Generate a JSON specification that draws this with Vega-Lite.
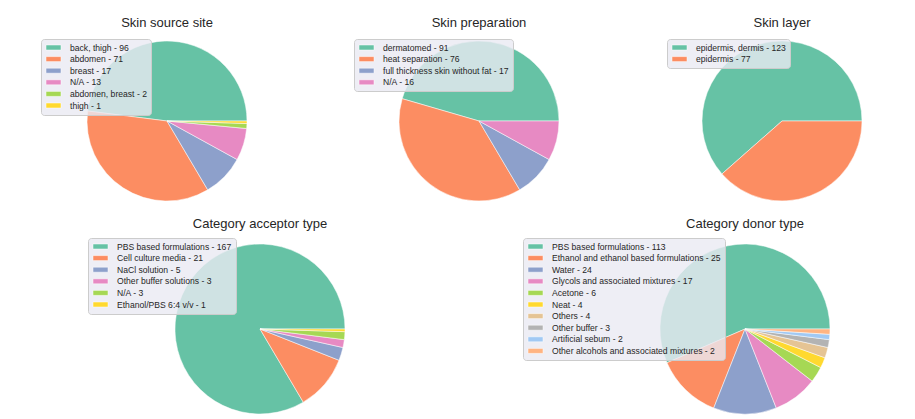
{
  "$schema": "https://vega.github.io/schema/vega-lite/v6.json",
  "padding": {"left": 0, "top": 17, "right": 0, "bottom": 0},
  "background": "white",
  "spacing": 12,
  "config": {
    "view": {"stroke": null},
    "font": "Liberation Sans",
    "title": {"fontSize": 13, "fontWeight": "normal", "color": "#262626", "font": "Liberation Sans", "offset": 6},
    "legend": {
      "fillColor": "rgba(234,234,242,0.8)",
      "strokeColor": "#cccccc",
      "cornerRadius": 3,
      "padding": 4,
      "labelFont": "Liberation Sans",
      "labelFontSize": 8.6,
      "labelColor": "#262626",
      "symbolType": "M-0.875,-0.625H2.875V0.625H-0.875Z",
      "symbolSize": 64,
      "symbolStrokeWidth": 0,
      "symbolOpacity": 1,
      "rowPadding": 1.6,
      "labelOffset": 16,
      "labelLimit": 400,
      "title": null
    },
    "arc": {"stroke": "white", "strokeWidth": 0.5}
  },
  "resolve": {"scale": {"color": "independent", "theta": "independent"}, "legend": {"color": "independent"}},
  "vconcat": [
    {
      "spacing": 0,
      "resolve": {"scale": {"color": "independent", "theta": "independent"}, "legend": {"color": "independent"}},
      "hconcat": [
        {
          "title": "Skin source site",
          "width": 334, "height": 170,
          "data": {"values": [
            {"label": "back, thigh - 96", "count": 96, "i": 0},
            {"label": "abdomen - 71", "count": 71, "i": 1},
            {"label": "breast - 17", "count": 17, "i": 2},
            {"label": "N/A - 13", "count": 13, "i": 3},
            {"label": "abdomen, breast - 2", "count": 2, "i": 4},
            {"label": "thigh - 1", "count": 1, "i": 5}
          ]},
          "mark": {"type": "arc", "outerRadius": 80},
          "encoding": {
            "theta": {"field": "count", "type": "quantitative", "stack": true, "scale": {"range": [1.5708, -4.7124]}},
            "order": {"field": "i", "type": "quantitative"},
            "color": {"field": "label", "type": "nominal", "sort": null,
              "scale": {"range": ["#66c2a5", "#fc8d62", "#8da0cb", "#e78ac3", "#a6d854", "#ffd92f"]},
              "legend": {"orient": "none", "legendX": 41, "legendY": 3}}
          }
        },
        {
          "title": "Skin preparation",
          "width": 290, "height": 170,
          "data": {"values": [
            {"label": "dermatomed - 91", "count": 91, "i": 0},
            {"label": "heat separation - 76", "count": 76, "i": 1},
            {"label": "full thickness skin without fat - 17", "count": 17, "i": 2},
            {"label": "N/A - 16", "count": 16, "i": 3}
          ]},
          "mark": {"type": "arc", "outerRadius": 80},
          "encoding": {
            "theta": {"field": "count", "type": "quantitative", "stack": true, "scale": {"range": [1.5708, -4.7124]}},
            "order": {"field": "i", "type": "quantitative"},
            "color": {"field": "label", "type": "nominal", "sort": null,
              "scale": {"range": ["#66c2a5", "#fc8d62", "#8da0cb", "#e78ac3"]},
              "legend": {"orient": "none", "legendX": 20, "legendY": 3}}
          }
        },
        {
          "title": "Skin layer",
          "width": 316, "height": 170,
          "data": {"values": [
            {"label": "epidermis, dermis - 123", "count": 123, "i": 0},
            {"label": "epidermis - 77", "count": 77, "i": 1}
          ]},
          "mark": {"type": "arc", "outerRadius": 80},
          "encoding": {
            "theta": {"field": "count", "type": "quantitative", "stack": true, "scale": {"range": [1.5708, -4.7124]}},
            "order": {"field": "i", "type": "quantitative"},
            "color": {"field": "label", "type": "nominal", "sort": null,
              "scale": {"range": ["#66c2a5", "#fc8d62"]},
              "legend": {"orient": "none", "legendX": 43, "legendY": 3}}
          }
        }
      ]
    },
    {
      "spacing": 0,
      "resolve": {"scale": {"color": "independent", "theta": "independent"}, "legend": {"color": "independent"}},
      "hconcat": [
        {
          "title": "Category acceptor type",
          "width": 520, "height": 184,
          "data": {"values": [
            {"label": "PBS based formulations - 167", "count": 167, "i": 0},
            {"label": "Cell culture media - 21", "count": 21, "i": 1},
            {"label": "NaCl solution - 5", "count": 5, "i": 2},
            {"label": "Other buffer solutions - 3", "count": 3, "i": 3},
            {"label": "N/A - 3", "count": 3, "i": 4},
            {"label": "Ethanol/PBS 6:4 v/v - 1", "count": 1, "i": 5}
          ]},
          "mark": {"type": "arc", "outerRadius": 85},
          "encoding": {
            "theta": {"field": "count", "type": "quantitative", "stack": true, "scale": {"range": [1.5708, -4.7124]}},
            "order": {"field": "i", "type": "quantitative"},
            "color": {"field": "label", "type": "nominal", "sort": null,
              "scale": {"range": ["#66c2a5", "#fc8d62", "#8da0cb", "#e78ac3", "#a6d854", "#ffd92f"]},
              "legend": {"orient": "none", "legendX": 88, "legendY": 1}}
          }
        },
        {
          "title": "Category donor type",
          "width": 450, "height": 184,
          "data": {"values": [
            {"label": "PBS based formulations - 113", "count": 113, "i": 0},
            {"label": "Ethanol and ethanol based formulations - 25", "count": 25, "i": 1},
            {"label": "Water - 24", "count": 24, "i": 2},
            {"label": "Glycols and associated mixtures - 17", "count": 17, "i": 3},
            {"label": "Acetone - 6", "count": 6, "i": 4},
            {"label": "Neat - 4", "count": 4, "i": 5},
            {"label": "Others - 4", "count": 4, "i": 6},
            {"label": "Other buffer - 3", "count": 3, "i": 7},
            {"label": "Artificial sebum - 2", "count": 2, "i": 8},
            {"label": "Other alcohols and associated mixtures - 2", "count": 2, "i": 9}
          ]},
          "mark": {"type": "arc", "outerRadius": 85},
          "encoding": {
            "theta": {"field": "count", "type": "quantitative", "stack": true, "scale": {"range": [1.5708, -4.7124]}},
            "order": {"field": "i", "type": "quantitative"},
            "color": {"field": "label", "type": "nominal", "sort": null,
              "scale": {"range": ["#66c2a5", "#fc8d62", "#8da0cb", "#e78ac3", "#a6d854", "#ffd92f", "#e5c494", "#b3b3b3", "#a1c9f4", "#ffb482"]},
              "legend": {"orient": "none", "legendX": 3, "legendY": 1}}
          }
        }
      ]
    }
  ]
}
